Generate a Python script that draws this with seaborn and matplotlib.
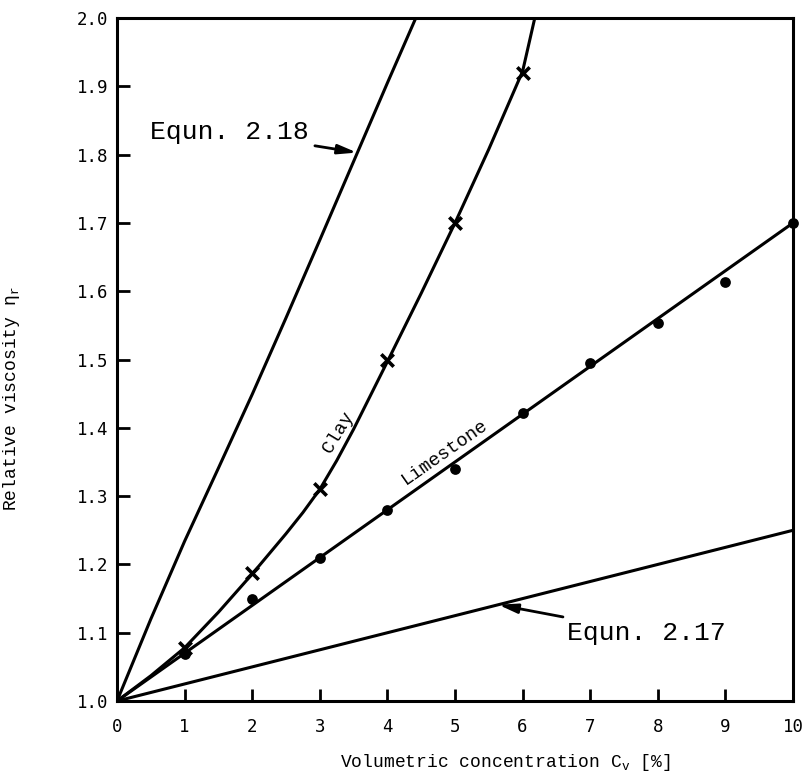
import matplotlib
matplotlib.use("Agg")
import matplotlib.pyplot as plt
import seaborn as sns

# Volumetric concentration (%) and relative viscosity readings
clay_conc = [1, 2, 3, 4, 5, 6]
clay_visc = [1.078, 1.188, 1.31, 1.50, 1.70, 1.92]

limestone_conc = [1, 2, 3, 4, 5, 6, 7, 8, 9, 10]
limestone_visc = [1.069, 1.150, 1.21, 1.28, 1.34, 1.422, 1.495, 1.553, 1.614, 1.70]

# Fitted curves through the measurements
clay_curve_x = [0, 0.5, 1, 1.5, 2, 2.5, 2.75, 3, 3.25, 3.5, 4, 4.5, 5, 5.5, 6, 6.18]
clay_curve_y = [1.0, 1.037, 1.078, 1.13, 1.186, 1.245, 1.276, 1.31, 1.352, 1.398, 1.497,
                1.597, 1.70, 1.808, 1.922, 2.0]

limestone_line_x = [0, 10]
limestone_line_y = [1.0, 1.70]

# Theoretical relations
eq217_x = [0, 10]
eq217_y = [1.0, 1.25]

eq218_x = [0, 0.5, 1, 1.5, 2, 2.5, 3, 3.5, 4, 4.42]
eq218_y = [1.0, 1.120, 1.234, 1.341, 1.449, 1.561, 1.675, 1.790, 1.905, 2.0]

x_ticks = [0, 1, 2, 3, 4, 5, 6, 7, 8, 9, 10]
y_ticks = [1.0, 1.1, 1.2, 1.3, 1.4, 1.5, 1.6, 1.7, 1.8, 1.9, 2.0]

sns.set_theme(style="ticks")
plt.rcParams["font.family"] = ["Liberation Mono", "DejaVu Sans Mono"]
plt.rcParams["mathtext.fontset"] = "custom"
plt.rcParams["mathtext.rm"] = "Liberation Mono"
plt.rcParams["mathtext.it"] = "Liberation Mono"
plt.rcParams["mathtext.tt"] = "Liberation Mono"

fig = plt.figure(figsize=(8.02, 7.73), dpi=100)
ax = fig.add_axes([0.1459, 0.0931, 0.8429, 0.8836])

lw = 2.2
line_kw = dict(ax=ax, color="black", lw=lw, sort=False, estimator=None)
sns.lineplot(x=eq218_x, y=eq218_y, **line_kw)
sns.lineplot(x=eq217_x, y=eq217_y, **line_kw)
sns.lineplot(x=clay_curve_x, y=clay_curve_y, **line_kw)
sns.lineplot(x=limestone_line_x, y=limestone_line_y, **line_kw)
for ln in ax.lines:
    ln.set_solid_joinstyle("round")

sns.scatterplot(x=clay_conc, y=clay_visc, ax=ax, marker="x", s=80, color="black",
                linewidth=2.6, zorder=5)
sns.scatterplot(x=limestone_conc, y=limestone_visc, ax=ax, marker="o", s=60, color="black",
                edgecolor="black", linewidth=0, zorder=5, clip_on=False)

ax.set_xlim(0, 10)
ax.set_ylim(1.0, 2.0)
ax.set_xticks(x_ticks)
ax.set_xticklabels([str(t) for t in x_ticks])
ax.set_yticks(y_ticks)
ax.set_yticklabels([f"{t:.1f}" for t in y_ticks])

for side in ["left", "right", "top", "bottom"]:
    ax.spines[side].set_visible(True)
    ax.spines[side].set_linewidth(2.2)
    ax.spines[side].set_color("black")

ax.tick_params(axis="both", direction="in", length=9, width=2, color="black",
               labelsize=12.5, labelcolor="black")
ax.tick_params(axis="x", pad=12)
ax.tick_params(axis="y", pad=6)
ax.tick_params(top=False, right=False)
for lab in ax.get_xticklabels() + ax.get_yticklabels():
    lab.set_fontfamily(["DejaVu Sans Mono"])

ax.set_xlabel(r"Volumetric concentration C$_\mathrm{v}$ [%]", fontsize=13, color="black")
ax.set_ylabel(r"Relative viscosity $\eta_\mathrm{r}$", fontsize=13, color="black")
ax.xaxis.set_label_coords(0.574, -0.075)
ax.yaxis.set_label_coords(-0.14, 0.442)

arrow = dict(arrowstyle="-|>,head_length=0.8,head_width=0.2", color="black", lw=2,
             mutation_scale=14, shrinkA=2, shrinkB=0)
ax.annotate("Equn. 2.18", xy=(3.55, 1.803), xytext=(0.49, 1.833), fontsize=19,
            ha="left", va="center", color="black", arrowprops=arrow)
ax.annotate("Equn. 2.17", xy=(5.64, 1.141), xytext=(6.66, 1.10), fontsize=19,
            ha="left", va="center", color="black", arrowprops=arrow)

ax.text(3.27, 1.394, "Clay", rotation=59, rotation_mode="anchor", fontsize=13.5,
        ha="center", va="center", color="black")
ax.text(4.85, 1.364, "Limestone", rotation=35, rotation_mode="anchor", fontsize=13.5,
        ha="center", va="center", color="black")

fig.savefig("out.png", dpi=100, facecolor="white")
